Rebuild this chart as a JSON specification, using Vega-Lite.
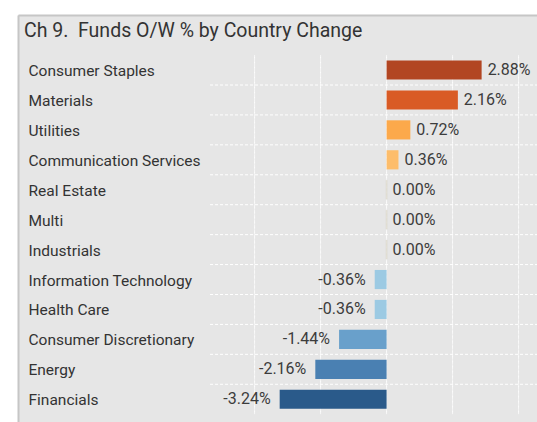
{
  "$schema": "https://vega.github.io/schema/vega-lite/v6.json",
  "width": 519,
  "height": 407,
  "autosize": {"type": "none"},
  "padding": {"left": 18, "top": 15, "right": 0, "bottom": 0},
  "background": "#ffffff",
  "title": {
    "text": "Ch 9.\u00a0 Funds O/W % by Country Change",
    "anchor": "start",
    "frame": "group",
    "orient": "top",
    "offset": -22,
    "dx": 6,
    "dy": 19,
    "baseline": "alphabetic",
    "font": "Roboto",
    "fontSize": 19.5,
    "fontWeight": "normal",
    "color": "#333333"
  },
  "data": {
    "values": [
      {"sector": "Consumer Staples", "value": 0.0288},
      {"sector": "Materials", "value": 0.0216},
      {"sector": "Utilities", "value": 0.0072},
      {"sector": "Communication Services", "value": 0.0036},
      {"sector": "Real Estate", "value": 0},
      {"sector": "Multi", "value": 0},
      {"sector": "Industrials", "value": 0},
      {"sector": "Information Technology", "value": -0.0036},
      {"sector": "Health Care", "value": -0.0036},
      {"sector": "Consumer Discretionary", "value": -0.0144},
      {"sector": "Energy", "value": -0.0216},
      {"sector": "Financials", "value": -0.0324}
    ]
  },
  "config": {
    "view": {"fill": "#e6e6e6", "stroke": null},
    "locale": {"number": {"decimal": ".", "thousands": ",", "grouping": [3], "currency": ["$", ""], "minus": "-"}},
    "axis": {"grid": false, "ticks": false, "domainColor": "#c6c6c6", "domainWidth": 2, "labelFont": "Roboto"},
    "axisX": {"labels": false},
    "axisY": {"labelAlign": "left", "labelPadding": -10, "labelFontSize": 15.5, "labelColor": "#333333", "labelLimit": 400, "labelBaseline": "middle", "labelOffset": 1}
  },
  "encoding": {
    "y": {"field": "sector", "type": "nominal", "sort": null, "title": null,
          "scale": {"paddingInner": 0, "paddingOuter": 0.8, "align": 0.837}}
  },
  "layer": [
    {
      "mark": {"type": "tick", "orient": "vertical", "thickness": 0, "size": 29.93, "filled": false, "stroke": "#ffffff", "strokeWidth": 1, "strokeDash": [3, 2]},
      "encoding": {"x": {"datum": -0.04, "type": "quantitative", "title": null, "axis": {"orient": "top"}, "scale": {"domain": [-0.1117, 0.04558], "nice": false, "zero": false}}}
    },
    {
      "mark": {"type": "tick", "orient": "vertical", "thickness": 0, "size": 29.93, "filled": false, "stroke": "#ffffff", "strokeWidth": 1, "strokeDash": [3, 2]},
      "encoding": {"x": {"datum": -0.02, "type": "quantitative", "title": null, "axis": {"orient": "top"}}}
    },
    {
      "mark": {"type": "tick", "orient": "vertical", "thickness": 0, "size": 29.93, "filled": false, "stroke": "#ffffff", "strokeWidth": 1, "strokeDash": [3, 2]},
      "encoding": {"x": {"datum": 0, "type": "quantitative", "title": null, "axis": {"orient": "top"}}}
    },
    {
      "mark": {"type": "tick", "orient": "vertical", "thickness": 0, "size": 29.93, "filled": false, "stroke": "#ffffff", "strokeWidth": 1, "strokeDash": [3, 2]},
      "encoding": {"x": {"datum": 0.02, "type": "quantitative", "title": null, "axis": {"orient": "top"}}}
    },
    {
      "mark": {"type": "tick", "orient": "vertical", "thickness": 0, "size": 29.93, "filled": false, "stroke": "#ffffff", "strokeWidth": 1, "strokeDash": [3, 2]},
      "encoding": {"x": {"datum": 0.04, "type": "quantitative", "title": null, "axis": {"orient": "top"}}}
    },
    {
      "transform": [{"filter": "datum.sector !== 'Consumer Staples'"}],
      "mark": {"type": "rule", "stroke": "#ffffff", "strokeWidth": 1, "strokeDash": [3, 2]},
      "encoding": {
        "y": {"field": "sector", "type": "nominal", "sort": null, "title": null, "bandPosition": 0},
        "x": {"datum": -0.0535, "type": "quantitative", "title": null, "axis": {"orient": "top"}},
        "x2": {"datum": 0.04558}
      }
    },
    {
      "mark": {"type": "bar", "height": {"band": 0.64}},
      "encoding": {
        "x": {"field": "value", "type": "quantitative", "title": null, "axis": {"orient": "top"}},
        "color": {"field": "sector", "type": "nominal", "legend": null,
          "scale": {
            "domain": ["Consumer Staples", "Materials", "Utilities", "Communication Services", "Real Estate", "Multi", "Industrials", "Information Technology", "Health Care", "Consumer Discretionary", "Energy", "Financials"],
            "range": ["#b24622", "#d95b25", "#fca94b", "#fdbd6b", "#d9d4c4", "#d9d4c4", "#d9d4c4", "#9ccae3", "#9ccae3", "#69a0cb", "#4a80b2", "#2a5a8a"]
          }}
      }
    },
    {
      "transform": [{"filter": "datum.value === 0"}],
      "mark": {"type": "tick", "orient": "vertical", "thickness": 1.6, "size": 19.2},
      "encoding": {
        "x": {"field": "value", "type": "quantitative", "title": null, "axis": {"orient": "top"}},
        "color": {"field": "sector", "type": "nominal", "legend": null}
      }
    },
    {
      "transform": [{"filter": "datum.value >= 0"}],
      "mark": {"type": "text", "align": "left", "baseline": "middle", "dx": 6, "font": "Roboto", "fontSize": 16, "color": "#3c3c3c"},
      "encoding": {
        "x": {"field": "value", "type": "quantitative", "title": null, "axis": {"orient": "top"}},
        "text": {"field": "value", "type": "quantitative", "format": ".2%"}
      }
    },
    {
      "transform": [{"filter": "datum.value < 0"}],
      "mark": {"type": "text", "align": "right", "baseline": "middle", "dx": -9, "font": "Roboto", "fontSize": 16, "color": "#3c3c3c"},
      "encoding": {
        "x": {"field": "value", "type": "quantitative", "title": null, "axis": {"orient": "top"}},
        "text": {"field": "value", "type": "quantitative", "format": ".2%"}
      }
    }
  ]
}
